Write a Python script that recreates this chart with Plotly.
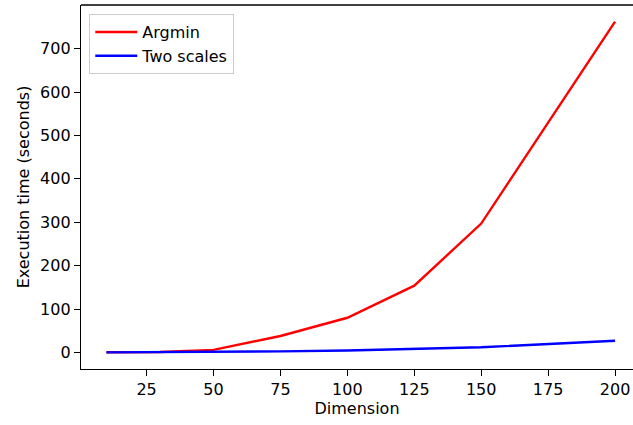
import plotly.graph_objects as go

dims = [10, 30, 50, 75, 100, 125, 150, 200]
argmin_times = [0.5, 1.2, 6, 38, 80, 154, 297, 762]
two_scales_times = [0.2, 0.5, 1.2, 2.5, 4.5, 8, 12, 27]

x_ticks = [25, 50, 75, 100, 125, 150, 175, 200]
y_ticks = [0, 100, 200, 300, 400, 500, 600, 700]

font_family = "DejaVu Sans"
fs = 16

fig = go.Figure()
fig.add_trace(go.Scatter(x=dims, y=argmin_times, mode="lines", name="Argmin",
                         line=dict(color="red", width=2.4)))
fig.add_trace(go.Scatter(x=dims, y=two_scales_times, mode="lines", name="Two scales",
                         line=dict(color="blue", width=2.4)))

axis_common = dict(
    showgrid=False, zeroline=False, showline=True, linecolor="black", linewidth=1.3,
    ticks="outside", ticklen=6, tickwidth=1.3, tickcolor="black", automargin=False,
    tickfont=dict(family=font_family, size=fs, color="black"),
)

fig.update_layout(
    width=633, height=425,
    margin=dict(l=81, r=0, t=5, b=56, autoexpand=False),
    paper_bgcolor="white", plot_bgcolor="white",
    font=dict(family=font_family, size=fs, color="black"),
    xaxis=dict(range=[0.5, 206.7], tickvals=x_ticks, mirror=False,
               title=dict(text="Dimension", font=dict(family=font_family, size=fs), standoff=2),
               **axis_common),
    yaxis=dict(range=[-38, 800.5], tickvals=y_ticks,
               title=dict(text="Execution time (seconds)", font=dict(family=font_family, size=fs), standoff=6),
               **axis_common),
    legend=dict(x=0.015, y=0.975, xanchor="left", yanchor="top",
                bgcolor="rgba(255,255,255,0.8)", bordercolor="#cccccc", borderwidth=1,
                font=dict(family=font_family, size=fs), itemwidth=42),
    showlegend=True,
)
# top spine only (right spine lies outside the visible figure)
fig.add_shape(type="line", xref="paper", yref="paper", x0=0, x1=1, y0=1, y1=1,
              line=dict(color="black", width=1.3))

fig.write_html("out.html", config={"displayModeBar": False},
               post_script="document.body.style.margin='0';")
